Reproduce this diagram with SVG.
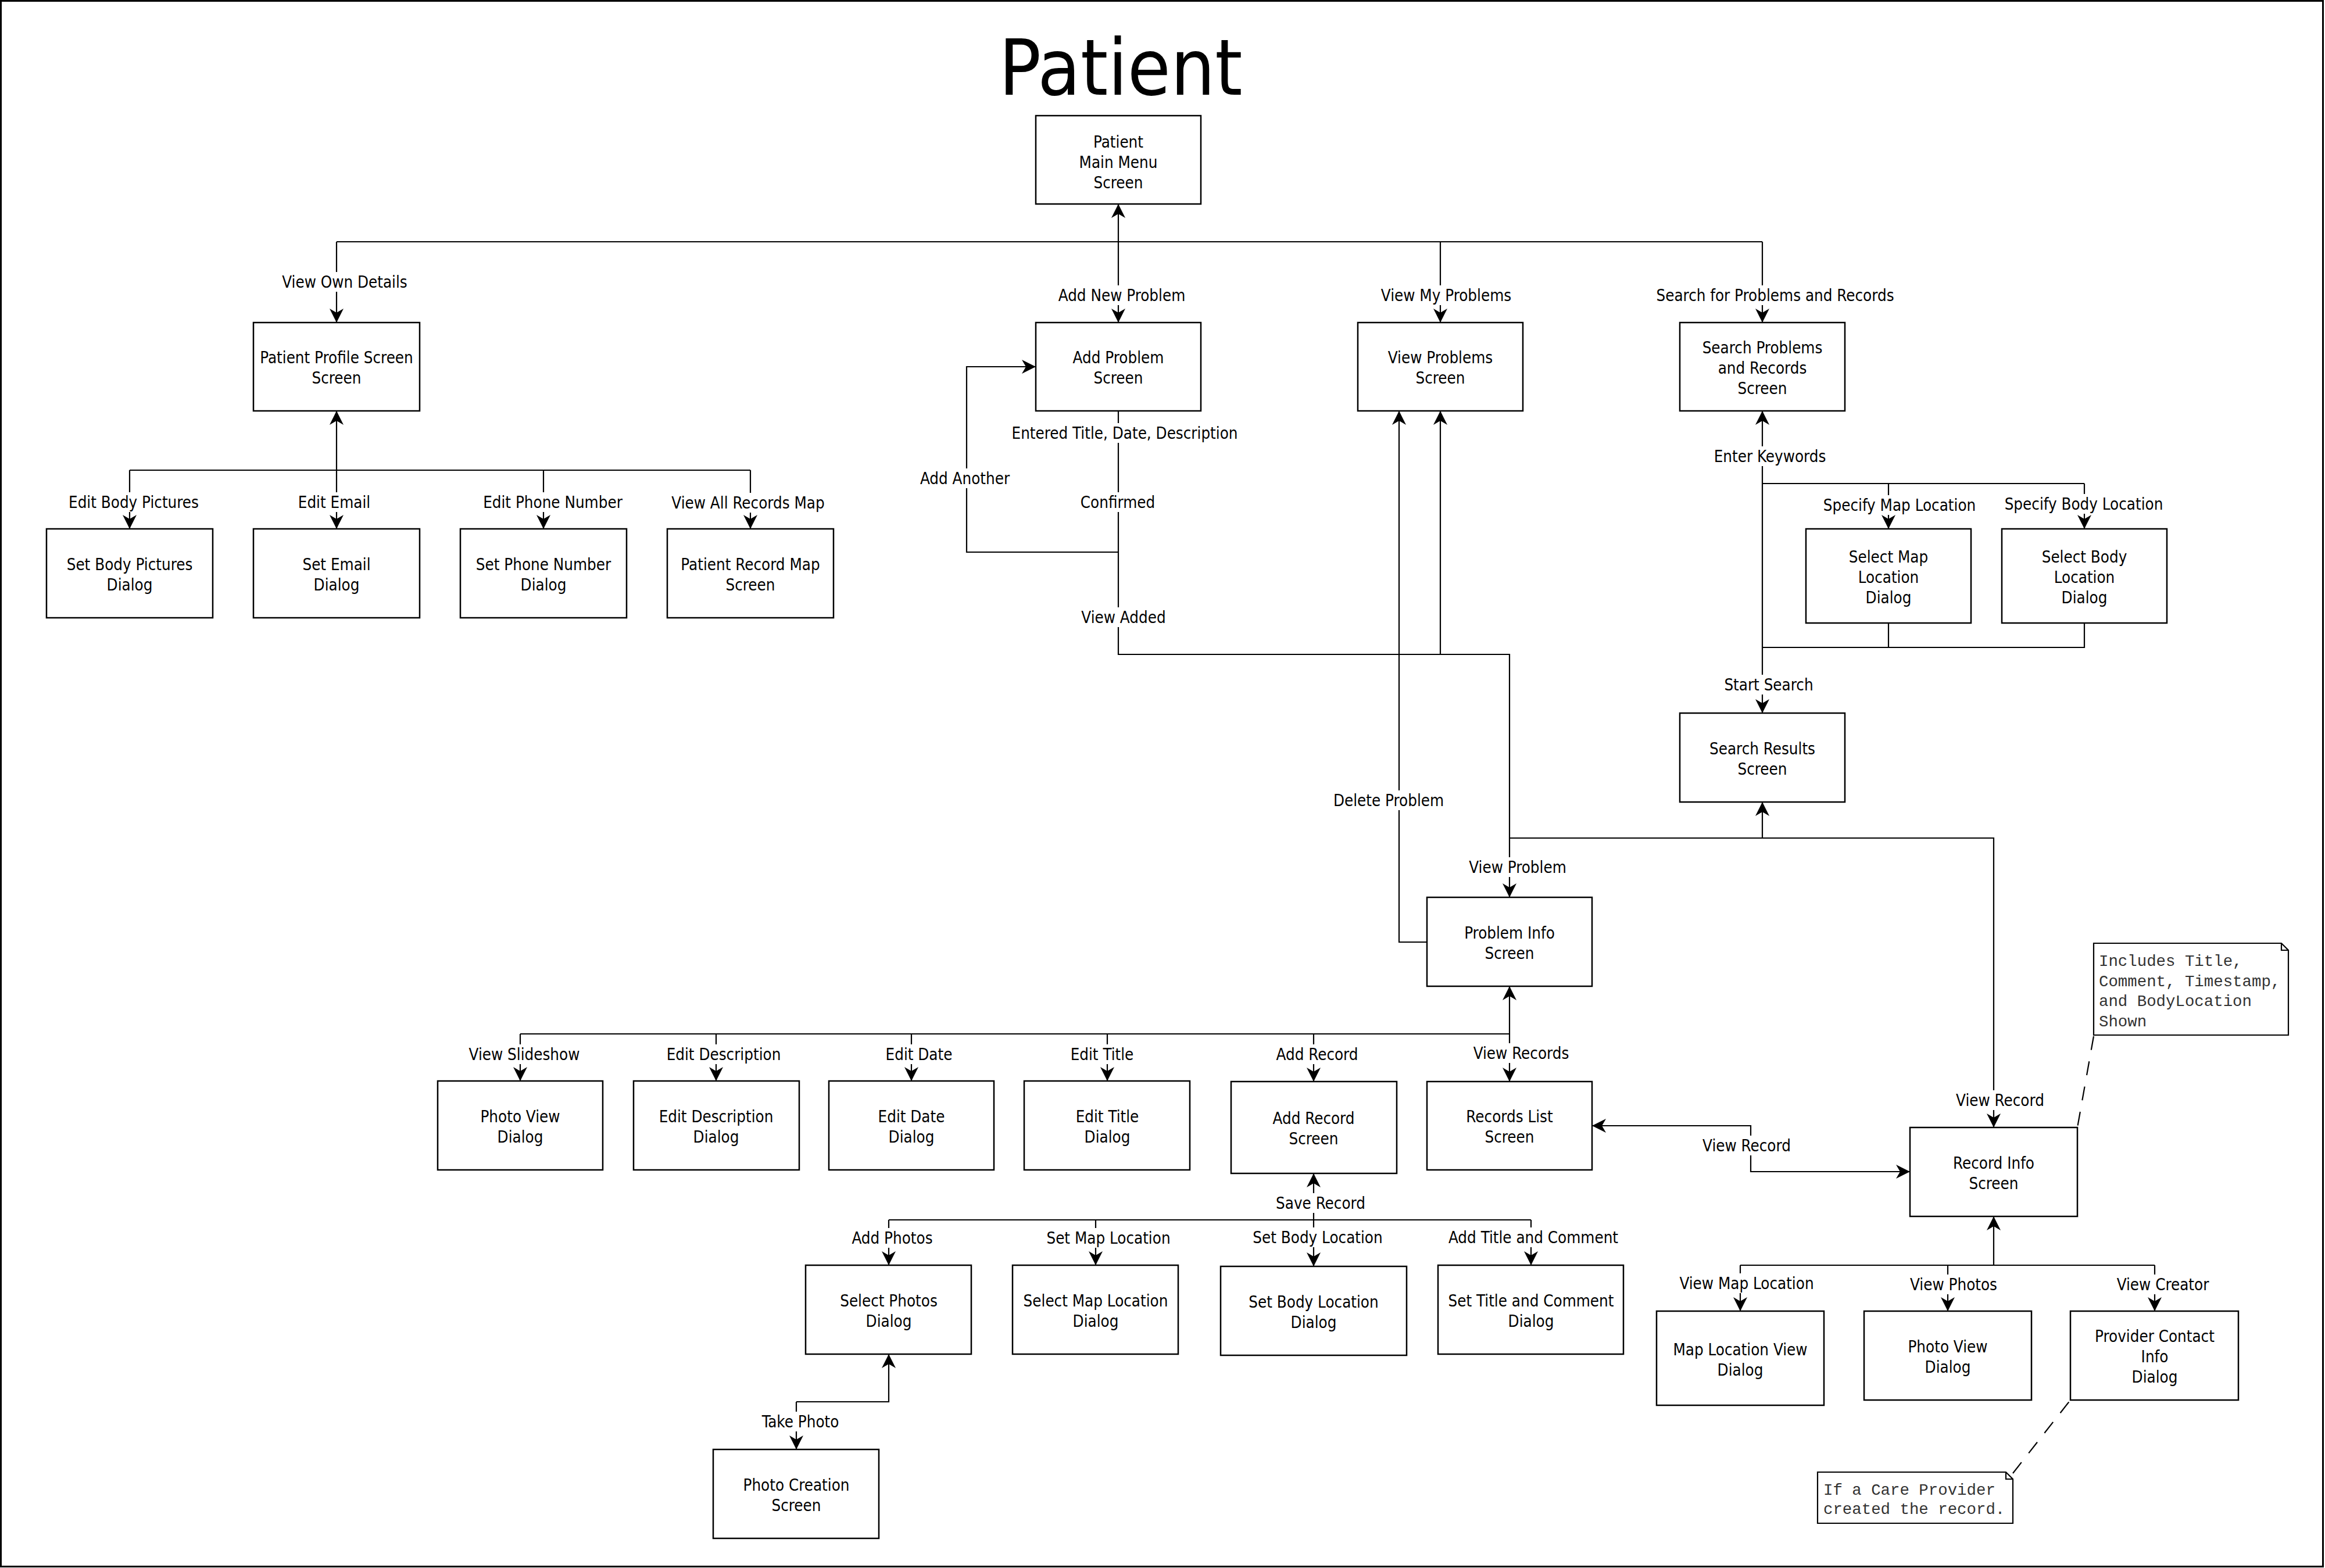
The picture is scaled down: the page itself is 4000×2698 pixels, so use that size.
<svg xmlns="http://www.w3.org/2000/svg" width="4000" height="2698" viewBox="0 0 4000 2698">
<style>
text{font-family:'DejaVu Sans Condensed','DejaVu Sans','Liberation Sans',sans-serif;font-stretch:condensed;font-size:27.5px;fill:#000;text-anchor:middle;transform:translate(0px,2px)}
.box{fill:#fff;stroke:#000;stroke-width:2.5}
.ln{fill:none;stroke:#000;stroke-width:2.2}
.arr{marker-end:url(#ah)}
.dash{fill:none;stroke:#000;stroke-width:2.2;stroke-dasharray:24 20}
.note{fill:#fff;stroke:#000;stroke-width:2.2}
.nt{font-family:'Liberation Mono','DejaVu Sans Mono',monospace;font-stretch:normal;font-size:27.4px;fill:#333;text-anchor:start}
.bg{fill:#fff}
.title{font-size:134px}
</style>
<defs>
<marker id="ah" viewBox="-26 -13 28 26" refX="0" refY="0" markerWidth="28" markerHeight="26" markerUnits="userSpaceOnUse" orient="auto-start-reverse">
<path d="M0,0 L-24,-12 L-17,0 L-24,12 Z" fill="#000"/>
</marker>
</defs>
<rect x="1.5" y="1.5" width="3995" height="2694" fill="#fff" stroke="#000" stroke-width="3"/>
<text class="title" x="1928" y="161">Patient</text>

<g id="connectors">
<path class="ln arr" d="M1924,416 V351"/>
<path class="ln" d="M579,416 H3032"/>
<path class="ln arr" d="M579,416 V555"/>
<path class="ln arr" d="M1924,416 V555"/>
<path class="ln arr" d="M2478,416 V555"/>
<path class="ln arr" d="M3032,416 V555"/>

<path class="ln arr" d="M579,809 V707"/>
<path class="ln" d="M223,809 H1291"/>
<path class="ln arr" d="M223,809 V910"/>
<path class="ln arr" d="M579,809 V910"/>
<path class="ln arr" d="M935,809 V910"/>
<path class="ln arr" d="M1291,809 V910"/>

<path class="ln arr" d="M1924,707 V1126 H2597 V1544"/>
<path class="ln arr" d="M1924,950 H1663 V631 H1782"/>
<path class="ln arr" d="M2478,1126 V707"/>
<path class="ln arr" d="M2455,1621 H2407 V707"/>

<path class="ln arr" d="M3032,1114 V707"/>
<path class="ln" d="M3032,832 H3586"/>
<path class="ln arr" d="M3249,832 V910"/>
<path class="ln arr" d="M3586,832 V910"/>
<path class="ln" d="M3249,1072 V1114 M3586,1072 V1114 H3032"/>
<path class="ln arr" d="M3032,1114 V1227"/>

<path class="ln arr" d="M3032,1442 V1380"/>
<path class="ln arr" d="M2597,1442 H3430 V1940"/>

<path class="ln arr" d="M2597,1779 V1697"/>
<path class="ln" d="M895,1779 H2597"/>
<path class="ln arr" d="M895,1779 V1860"/>
<path class="ln arr" d="M1232,1779 V1860"/>
<path class="ln arr" d="M1568,1779 V1860"/>
<path class="ln arr" d="M1905,1779 V1860"/>
<path class="ln arr" d="M2260,1779 V1861"/>
<path class="ln arr" d="M2597,1779 V1861"/>

<path class="ln" d="M2739,1937 H3012 V2016 H3286" marker-start="url(#ah)" marker-end="url(#ah)"/>

<path class="ln arr" d="M2260,2099 V2019"/>
<path class="ln" d="M1529,2099 H2634"/>
<path class="ln arr" d="M1529,2099 V2177"/>
<path class="ln arr" d="M1885,2099 V2177"/>
<path class="ln arr" d="M2260,2099 V2179"/>
<path class="ln arr" d="M2634,2099 V2177"/>

<path class="ln arr" d="M1370,2412 H1529 V2330"/>
<path class="ln arr" d="M1370,2412 V2494"/>

<path class="ln arr" d="M3430,2177 V2093"/>
<path class="ln" d="M2994,2177 H3707"/>
<path class="ln arr" d="M2994,2177 V2256"/>
<path class="ln arr" d="M3351,2177 V2256"/>
<path class="ln arr" d="M3707,2177 V2256"/>

<path class="dash" d="M3602,1783 L3574,1940"/>
<path class="dash" d="M3463,2535 L3562,2409"/>
</g>

<g id="labels">
<rect class="bg" x="484" y="468" width="218" height="34"/><text x="593" y="493">View Own Details</text>
<rect class="bg" x="1819" y="491" width="222" height="34"/><text x="1930" y="516">Add New Problem</text>
<rect class="bg" x="2374" y="491" width="228" height="34"/><text x="2488" y="516">View My Problems</text>
<rect class="bg" x="2848" y="491" width="412" height="34"/><text x="3054" y="516">Search for Problems and Records</text>
<rect class="bg" x="118" y="847" width="225" height="34"/><text x="230" y="872">Edit Body Pictures</text>
<rect class="bg" x="513" y="847" width="125" height="34"/><text x="575" y="872">Edit Email</text>
<rect class="bg" x="830" y="847" width="242" height="34"/><text x="951" y="872">Edit Phone Number</text>
<rect class="bg" x="1154" y="848" width="266" height="34"/><text x="1287" y="873">View All Records Map</text>
<rect class="bg" x="1740" y="728" width="390" height="34"/><text x="1935" y="753">Entered Title, Date, Description</text>
<rect class="bg" x="1859" y="847" width="129" height="34"/><text x="1923" y="872">Confirmed</text>
<rect class="bg" x="1582" y="806" width="156" height="34"/><text x="1660" y="831">Add Another</text>
<rect class="bg" x="1859" y="1045" width="148" height="34"/><text x="1933" y="1070">View Added</text>
<rect class="bg" x="2946" y="768" width="197" height="34"/><text x="3045" y="793">Enter Keywords</text>
<rect class="bg" x="3137" y="852" width="262" height="34"/><text x="3268" y="877">Specify Map Location</text>
<rect class="bg" x="3449" y="850" width="272" height="34"/><text x="3585" y="875">Specify Body Location</text>
<rect class="bg" x="2966" y="1161" width="154" height="34"/><text x="3043" y="1186">Start Search</text>
<rect class="bg" x="2294" y="1360" width="191" height="34"/><text x="2389" y="1385">Delete Problem</text>
<rect class="bg" x="2526" y="1475" width="170" height="34"/><text x="2611" y="1500">View Problem</text>
<rect class="bg" x="3364" y="1876" width="154" height="34"/><text x="3441" y="1901">View Record</text>
<rect class="bg" x="806" y="1797" width="193" height="34"/><text x="902" y="1822">View Slideshow</text>
<rect class="bg" x="1148" y="1797" width="194" height="34"/><text x="1245" y="1822">Edit Description</text>
<rect class="bg" x="1523" y="1797" width="117" height="34"/><text x="1581" y="1822">Edit Date</text>
<rect class="bg" x="1840" y="1797" width="112" height="34"/><text x="1896" y="1822">Edit Title</text>
<rect class="bg" x="2192" y="1797" width="148" height="34"/><text x="2266" y="1822">Add Record</text>
<rect class="bg" x="2532" y="1795" width="169" height="34"/><text x="2617" y="1820">View Records</text>
<rect class="bg" x="2928" y="1954" width="155" height="34"/><text x="3005" y="1979">View Record</text>
<rect class="bg" x="2194" y="2053" width="157" height="34"/><text x="2272" y="2078">Save Record</text>
<rect class="bg" x="1464" y="2113" width="143" height="34"/><text x="1535" y="2138">Add Photos</text>
<rect class="bg" x="1799" y="2113" width="215" height="34"/><text x="1907" y="2138">Set Map Location</text>
<rect class="bg" x="2155" y="2112" width="224" height="34"/><text x="2267" y="2137">Set Body Location</text>
<rect class="bg" x="2492" y="2112" width="293" height="34"/><text x="2638" y="2137">Add Title and Comment</text>
<rect class="bg" x="1307" y="2429" width="141" height="34"/><text x="1377" y="2454">Take Photo</text>
<rect class="bg" x="2887" y="2191" width="235" height="34"/><text x="3005" y="2216">View Map Location</text>
<rect class="bg" x="3284" y="2193" width="154" height="34"/><text x="3361" y="2218">View Photos</text>
<rect class="bg" x="3640" y="2193" width="161" height="34"/><text x="3721" y="2218">View Creator</text>
</g>

<g id="main-menu"><rect class="box" x="1782" y="199" width="284" height="152"/><text x="1924" y="252">Patient</text><text x="1924" y="287">Main Menu</text><text x="1924" y="322">Screen</text></g>
<g id="patient-profile"><rect class="box" x="436" y="555" width="286" height="152"/><text x="579" y="623">Patient Profile Screen</text><text x="579" y="658">Screen</text></g>
<g id="set-body-pictures"><rect class="box" x="80" y="910" width="286" height="153"/><text x="223" y="979">Set Body Pictures</text><text x="223" y="1014">Dialog</text></g>
<g id="set-email"><rect class="box" x="436" y="910" width="286" height="153"/><text x="579" y="979">Set Email</text><text x="579" y="1014">Dialog</text></g>
<g id="set-phone"><rect class="box" x="792" y="910" width="286" height="153"/><text x="935" y="979">Set Phone Number</text><text x="935" y="1014">Dialog</text></g>
<g id="record-map"><rect class="box" x="1148" y="910" width="286" height="153"/><text x="1291" y="979">Patient Record Map</text><text x="1291" y="1014">Screen</text></g>
<g id="add-problem"><rect class="box" x="1782" y="555" width="284" height="152"/><text x="1924" y="623">Add Problem</text><text x="1924" y="658">Screen</text></g>
<g id="view-problems"><rect class="box" x="2336" y="555" width="284" height="152"/><text x="2478" y="623">View Problems</text><text x="2478" y="658">Screen</text></g>
<g id="search-problems"><rect class="box" x="2890" y="555" width="284" height="152"/><text x="3032" y="606">Search Problems</text><text x="3032" y="641">and Records</text><text x="3032" y="676">Screen</text></g>
<g id="select-map-location-search"><rect class="box" x="3107" y="910" width="284" height="162"/><text x="3249" y="966">Select Map</text><text x="3249" y="1001">Location</text><text x="3249" y="1036">Dialog</text></g>
<g id="select-body-location"><rect class="box" x="3444" y="910" width="284" height="162"/><text x="3586" y="966">Select Body</text><text x="3586" y="1001">Location</text><text x="3586" y="1036">Dialog</text></g>
<g id="search-results"><rect class="box" x="2890" y="1227" width="284" height="153"/><text x="3032" y="1296">Search Results</text><text x="3032" y="1331">Screen</text></g>
<g id="problem-info"><rect class="box" x="2455" y="1544" width="284" height="153"/><text x="2597" y="1613">Problem Info</text><text x="2597" y="1648">Screen</text></g>
<g id="photo-view-1"><rect class="box" x="753" y="1860" width="284" height="153"/><text x="895" y="1929">Photo View</text><text x="895" y="1964">Dialog</text></g>
<g id="edit-description"><rect class="box" x="1090" y="1860" width="285" height="153"/><text x="1232" y="1929">Edit Description</text><text x="1232" y="1964">Dialog</text></g>
<g id="edit-date"><rect class="box" x="1426" y="1860" width="284" height="153"/><text x="1568" y="1929">Edit Date</text><text x="1568" y="1964">Dialog</text></g>
<g id="edit-title"><rect class="box" x="1762" y="1860" width="285" height="153"/><text x="1905" y="1929">Edit Title</text><text x="1905" y="1964">Dialog</text></g>
<g id="add-record"><rect class="box" x="2118" y="1861" width="285" height="158"/><text x="2260" y="1932">Add Record</text><text x="2260" y="1967">Screen</text></g>
<g id="records-list"><rect class="box" x="2455" y="1861" width="284" height="152"/><text x="2597" y="1929">Records List</text><text x="2597" y="1964">Screen</text></g>
<g id="select-photos"><rect class="box" x="1386" y="2177" width="285" height="153"/><text x="1529" y="2246">Select Photos</text><text x="1529" y="2281">Dialog</text></g>
<g id="select-map-location"><rect class="box" x="1742" y="2177" width="285" height="153"/><text x="1885" y="2246">Select Map Location</text><text x="1885" y="2281">Dialog</text></g>
<g id="set-body-location"><rect class="box" x="2100" y="2179" width="320" height="153"/><text x="2260" y="2248">Set Body Location</text><text x="2260" y="2283">Dialog</text></g>
<g id="set-title-comment"><rect class="box" x="2474" y="2177" width="319" height="153"/><text x="2634" y="2246">Set Title and Comment</text><text x="2634" y="2281">Dialog</text></g>
<g id="photo-creation"><rect class="box" x="1227" y="2494" width="285" height="153"/><text x="1370" y="2563">Photo Creation</text><text x="1370" y="2598">Screen</text></g>
<g id="record-info"><rect class="box" x="3286" y="1940" width="288" height="153"/><text x="3430" y="2009">Record Info</text><text x="3430" y="2044">Screen</text></g>
<g id="map-location-view"><rect class="box" x="2850" y="2256" width="288" height="162"/><text x="2994" y="2330">Map Location View</text><text x="2994" y="2365">Dialog</text></g>
<g id="photo-view-2"><rect class="box" x="3207" y="2256" width="288" height="153"/><text x="3351" y="2325">Photo View</text><text x="3351" y="2360">Dialog</text></g>
<g id="provider-contact"><rect class="box" x="3562" y="2256" width="289" height="153"/><text x="3707" y="2307">Provider Contact</text><text x="3707" y="2342">Info</text><text x="3707" y="2377">Dialog</text></g>

<g id="note-record-info">
<path class="note" d="M3602,1623 H3925 L3937,1635 V1781 H3602 Z"/>
<path class="ln" d="M3925,1623 V1635 H3937"/>
<text class="nt" x="3611" y="1660">Includes Title,</text>
<text class="nt" x="3611" y="1695">Comment, Timestamp,</text>
<text class="nt" x="3611" y="1729">and BodyLocation</text>
<text class="nt" x="3611" y="1764">Shown</text>
</g>
<g id="note-provider">
<path class="note" d="M3127,2533 H3451 L3463,2545 V2621 H3127 Z"/>
<path class="ln" d="M3451,2533 V2545 H3463"/>
<text class="nt" x="3137" y="2570">If a Care Provider</text>
<text class="nt" x="3137" y="2603">created the record.</text>
</g>
</svg>
